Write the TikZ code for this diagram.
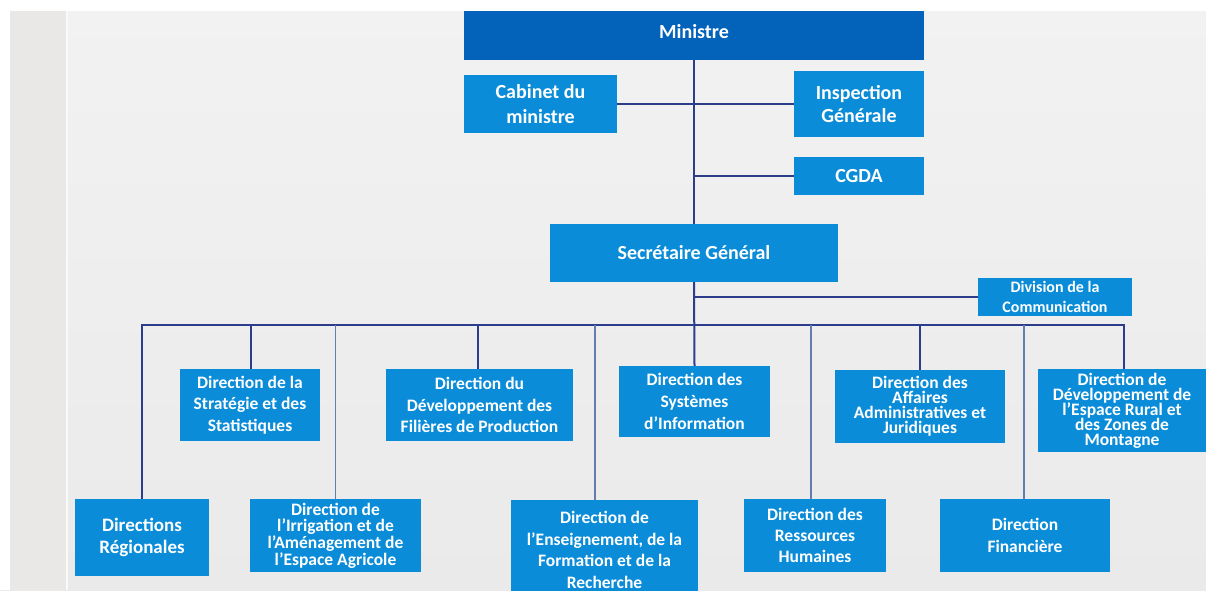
\documentclass[tikz,border=0pt]{standalone}
\usepackage{fontspec}
\setmainfont{Carlito}
\newcommand{\tightlsl}{\lineskiplimit-100pt\relax}
\definecolor{boxblue}{RGB}{10,140,216}
\definecolor{minblue}{RGB}{3,98,186}
\definecolor{navy}{RGB}{46,60,140}
\definecolor{thinline}{RGB}{100,125,175}
\definecolor{bgtop}{RGB}{242,242,242}
\definecolor{bgbot}{RGB}{234,234,234}
\definecolor{strip}{RGB}{234,231,231}
\begin{document}
\begin{tikzpicture}[x=1pt,y=-1pt,
  box/.style={fill=boxblue, text=white, align=center, inner sep=0pt},
  fbig/.style={font=\bfseries\fontsize{20}{24}\selectfont\tightlsl},
  fmid/.style={font=\bfseries\fontsize{17.5}{#1}\selectfont\tightlsl},
  fmid/.default=21.5,
  conn/.style={draw=navy, line width=2pt},
  thin/.style={draw=thinline, line width=1.4pt}]
\useasboundingbox (0,0) rectangle (1206,590);
\clip (0,0) rectangle (1206,590);
% background
\shade[top color=bgtop, bottom color=bgbot] (0,0) rectangle (1206,590);
\fill[strip] (10,0) rectangle (66,590);
\fill[white!60!bgtop] (66,0) rectangle (68,590);
% nodes
\node[box, fill=minblue, fbig, minimum width=460, minimum height=56] (min) at (694,32) {Ministre};
\node[box, font=\bfseries\fontsize{20}{25}\selectfont, minimum width=153, minimum height=58] (cab) at (540.5,104) {Cabinet du\\ministre};
\node[box, font=\bfseries\fontsize{20}{23.5}\selectfont, minimum width=130, minimum height=66] (insp) at (859,104) {Inspection\\Générale};
\node[box, fbig, minimum width=130, minimum height=38] (cgda) at (859,176) {CGDA};
\node[box, fbig, minimum width=288, minimum height=58] (sg) at (694,253) {Secrétaire Général};
\node[box, font=\bfseries\fontsize{16}{20}\selectfont, minimum width=154, minimum height=38] (div) at (1055,297) {Division de la\\Communication};
\node[box, font=\bfseries\fontsize{19}{22.7}\selectfont, minimum width=134, minimum height=77] (reg) at (142,537.5) {Directions\\Régionales};
\node[box, fmid, minimum width=140, minimum height=72] (strat) at (250,405) {Direction de la\\Stratégie et des\\Statistiques};
\node[box, fmid=16.7, minimum width=171, minimum height=73] (irr) at (335.5,535.5) {Direction de\\l’Irrigation et de\\l’Aménagement de\\l’Espace Agricole};
\node[box, fmid, minimum width=187, minimum height=72] (fil) at (479.5,405) {Direction du\\Développement des\\Filières de Production};
\node[box, fmid, minimum width=187, minimum height=100] (ens) at (604.5,550) {Direction de\\l’Enseignement, de la\\Formation et de la\\Recherche};
\node[box, fmid=21.7, minimum width=151, minimum height=71] (sys) at (694.5,401.5) {Direction des\\Systèmes\\d’Information};
\node[box, fmid=21.3, minimum width=142, minimum height=73] (rh) at (815,535.5) {Direction des\\Ressources\\Humaines};
\node[box, fmid=15, minimum width=170, minimum height=73] (aff) at (920,406.5) {Direction des\\Affaires\\Administratives et\\Juridiques};
\node[box, fmid=22, minimum width=170, minimum height=73] (fin) at (1025,535.5) {Direction\\Financière};
\node[box, fmid=15, minimum width=168, minimum height=83] (rur) at (1122,410.5) {Direction de\\Développement de\\l'Espace Rural et\\des Zones de\\Montagne};
% connectors
\coordinate (busL) at (142,325);
\coordinate (busR) at (1124,325);
\draw[conn] (min.south) -- (sg.north);
\draw[conn] (cab.east) -- (insp.west);
\draw[conn] (cgda.west) -- (cgda.west -| min.south);
\draw[conn] (sg.south) -- (sys.north);
\draw[conn] (div.west) -- (div.west -| sg.south);
\draw[conn] (reg.north) -- (reg.north |- busL) -- (busR) -- (rur.north -| busR);
\draw[conn] ([xshift=1pt]strat.north) -- ([xshift=1pt]strat.north |- busL);
\draw[conn] ([xshift=-1.5pt]fil.north) -- ([xshift=-1.5pt]fil.north |- busL);
\draw[conn] (aff.north) -- (aff.north |- busL);
\draw[thin] (irr.north) -- (irr.north |- busL);
\draw[thin] ([xshift=-9.5pt]ens.north) -- ([xshift=-9.5pt]ens.north |- busL);
\draw[thin] ([xshift=-4pt]rh.north) -- ([xshift=-4pt]rh.north |- busL);
\draw[thin] ([xshift=-1pt]fin.north) -- ([xshift=-1pt]fin.north |- busL);
% top and left white margins
\fill[white] (0,0) rectangle (1206,11);
\fill[white] (0,0) rectangle (10,590);
\end{tikzpicture}
\end{document}
